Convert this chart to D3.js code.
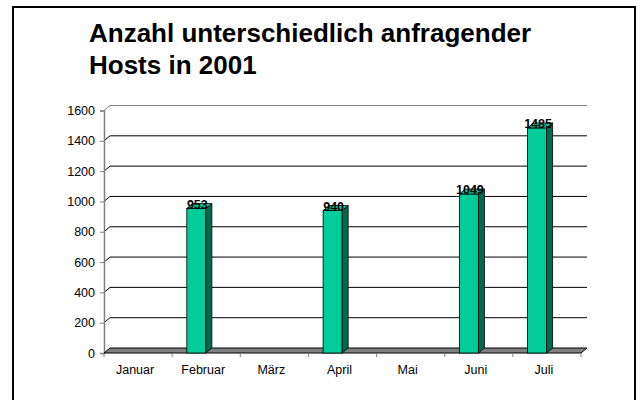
<!DOCTYPE html>
<html>
<head>
<meta charset="utf-8">
<script src="https://cdn.jsdelivr.net/npm/d3@7"></script>
<style>
  html, body { margin: 0; padding: 0; background: #fff; }
  svg { display: block; }
</style>
</head>
<body>
<div id="chart"></div>
<script>
// data
const months = ["Januar", "Februar", "März", "April", "Mai", "Juni", "Juli"];
const hosts = [null, 953, null, 940, null, 1049, 1485];
const yTicks = [0, 200, 400, 600, 800, 1000, 1200, 1400, 1600];
const titleLines = ["Anzahl unterschiedlich anfragender", "Hosts in 2001"];

const width = 640, height = 400;
const font = '"Liberation Sans", Arial, sans-serif';

// 3d depth offset (front -> back wall)
const dx = 6, dy = -5;

const svg = d3.select("#chart").append("svg")
  .attr("width", width)
  .attr("height", height);

// outer frame
svg.append("rect")
  .attr("x", 13).attr("y", 7)
  .attr("width", 622).attr("height", 410)
  .attr("fill", "none")
  .attr("stroke", "#000")
  .attr("stroke-width", 2);

// title
svg.append("g").selectAll("text")
  .data(titleLines)
  .join("text")
  .attr("x", 89)
  .attr("y", (d, i) => 42 + i * 32)
  .style("font-family", font)
  .style("font-size", "26px")
  .style("font-weight", "bold")
  .attr("fill", "#000")
  .text(d => d);

const x = d3.scaleBand().domain(months).range([104, 581]).padding(0);
const y = d3.scaleLinear().domain([0, 1600]).range([353, 110.5]);
const y0 = y(0);

// gridlines on back wall, with the short diagonal to the front axis
const grid = svg.append("g");
yTicks.filter(v => v > 0).forEach(v => {
  const col = v === 1600 ? "#808080" : "#000";
  grid.append("line")
    .attr("x1", 104 + dx).attr("x2", 581 + dx)
    .attr("y1", y(v) + dy).attr("y2", y(v) + dy)
    .attr("stroke", col).attr("stroke-width", 1);
  grid.append("line")
    .attr("x1", 104).attr("x2", 104 + dx)
    .attr("y1", y(v)).attr("y2", y(v) + dy)
    .attr("stroke", col).attr("stroke-width", 1);
});

// y axis
const yAxis = d3.axisLeft(y).tickValues(yTicks).tickFormat(d3.format("d")).tickSize(4).tickPadding(5);
const ya = svg.append("g")
  .attr("transform", "translate(104,0)")
  .call(yAxis);
ya.select(".domain").attr("stroke", "#808080").attr("stroke-width", 1.5);
ya.selectAll(".tick line").attr("stroke", "#808080");
ya.selectAll("text")
  .style("font-family", font)
  .style("font-size", "12.5px")
  .attr("fill", "#000");

// floor
const floorPts = [[104, y0], [581, y0], [581 + dx, y0 + dy], [104 + dx, y0 + dy]];
svg.append("polygon")
  .attr("points", floorPts.map(p => p.join(",")).join(" "))
  .attr("fill", "#808080")
  .attr("stroke", "#000")
  .attr("stroke-width", 1);

// x axis ticks at category boundaries
const xa = svg.append("g");
const bounds = months.map(m => x(m)).concat([581]);
xa.selectAll("line")
  .data(bounds)
  .join("line")
  .attr("x1", d => d).attr("x2", d => d)
  .attr("y1", y0).attr("y2", y0 + 4)
  .attr("stroke", "#808080").attr("stroke-width", 1);
xa.selectAll("text")
  .data(months)
  .join("text")
  .attr("x", d => x(d) + x.bandwidth() / 2 - 3)
  .attr("y", 374)
  .attr("text-anchor", "middle")
  .style("font-family", font)
  .style("font-size", "12.5px")
  .attr("fill", "#000")
  .text(d => d);

// bars
const rows = months.map((m, i) => ({ m, v: hosts[i] })).filter(d => d.v != null);
const bw = x.bandwidth() * 0.28;
const bx = d => x(d.m) + x.bandwidth() * 0.215;

const bars = svg.append("g").selectAll("g")
  .data(rows)
  .join("g");

bars.append("rect")
  .attr("x", d => bx(d))
  .attr("y", d => y(d.v))
  .attr("width", bw)
  .attr("height", d => y0 - y(d.v))
  .attr("fill", "#00cc99")
  .attr("stroke", "#000")
  .attr("stroke-width", 0.8);

bars.append("polygon")
  .attr("points", d => {
    const l = bx(d) + bw, t = y(d.v);
    return [[l, t], [l + dx, t + dy], [l + dx, y0 + dy], [l, y0]].map(p => p.join(",")).join(" ");
  })
  .attr("fill", "#006a4e")
  .attr("stroke", "#000")
  .attr("stroke-width", 0.8);

bars.append("polygon")
  .attr("points", d => {
    const l = bx(d), t = y(d.v);
    return [[l, t], [l + dx, t + dy], [l + bw + dx, t + dy], [l + bw, t]].map(p => p.join(",")).join(" ");
  })
  .attr("fill", "#00cc99")
  .attr("stroke", "#000")
  .attr("stroke-width", 0.8);

// value labels on the bar tops
svg.append("g").selectAll("text")
  .data(rows)
  .join("text")
  .attr("x", d => bx(d) + bw / 2 + 1)
  .attr("y", d => y(d.v))
  .attr("text-anchor", "middle")
  .style("font-family", font)
  .style("font-size", "12.5px")
  .style("font-weight", "bold")
  .attr("fill", "#000")
  .text(d => d.v);
</script>
</body>
</html>
